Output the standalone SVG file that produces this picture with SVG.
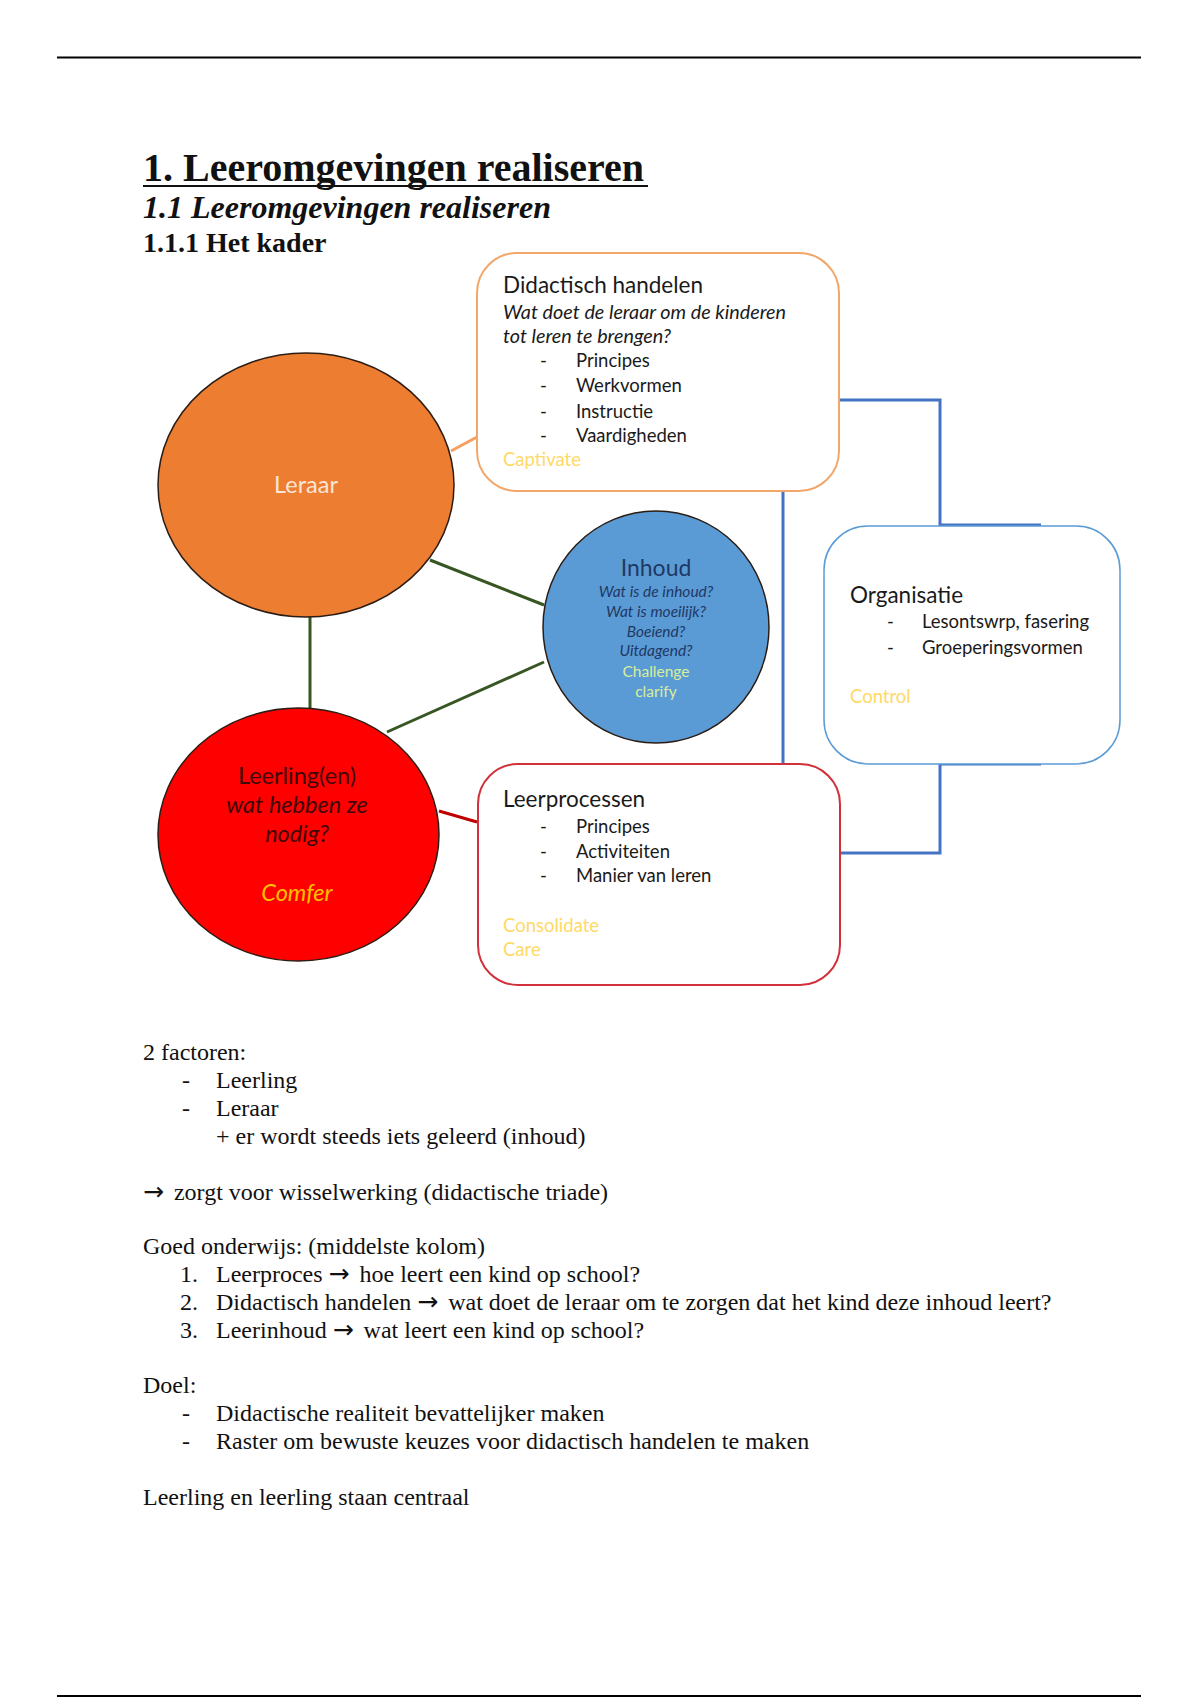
<svg xmlns="http://www.w3.org/2000/svg" width="1200" height="1700" viewBox="0 0 1200 1700">
<style>
.serif{font-family:"Liberation Serif","Times New Roman",serif;fill:#111}
.body{font-size:24px}
.arr{font-family:"DejaVu Sans",sans-serif;font-size:25px}
.sans{font-family:Lato,"Noto Sans","DejaVu Sans",sans-serif;fill:#1a1a1a}
.t22{font-size:22.5px}
.t19{font-size:19.8px}
.t18{font-size:18.5px}
.it{font-style:italic}
.yel{fill:#FFD966}
.box{fill:#fff}
.ell{stroke:#2b1d14;stroke-width:1.5}
.conn{fill:none;stroke-width:3}
</style>
<rect width="1200" height="1700" fill="#fff"/>
<line x1="57" y1="57.5" x2="1141" y2="57.5" stroke="#000" stroke-width="2"/>
<line x1="57" y1="1696" x2="1141" y2="1696" stroke="#000" stroke-width="2"/>

<g id="headings">
<text class="serif" x="143" y="181" font-size="40" font-weight="bold">1. Leeromgevingen realiseren</text>
<line x1="143" y1="186" x2="648" y2="186" stroke="#111" stroke-width="2"/>
<text class="serif" x="143" y="218" font-size="32" font-weight="bold" font-style="italic">1.1 Leeromgevingen realiseren</text>
<text class="serif" x="143" y="252" font-size="28" font-weight="bold">1.1.1 Het kader</text>
</g>

<g id="connectors">
<line class="conn" x1="451" y1="451" x2="477" y2="437" stroke="#F4A060"/>
<line class="conn" x1="310" y1="617" x2="310" y2="708" stroke="#375623"/>
<line class="conn" x1="430" y1="560" x2="544" y2="605" stroke="#375623"/>
<line class="conn" x1="387" y1="732" x2="544" y2="662" stroke="#375623"/>
<line class="conn" x1="439" y1="811" x2="477" y2="822" stroke="#C00000"/>
<line class="conn" x1="783" y1="491" x2="783" y2="763" stroke="#4472C4"/>
<polyline class="conn" points="839,400 940,400 940,525 1041,525" stroke="#4472C4"/>
<polyline class="conn" points="840,853 940,853 940,764 1041,764" stroke="#4472C4"/>
</g>

<g id="didactisch">
<rect class="box" x="477" y="253" width="362" height="238" rx="40" stroke="#F2A76A" stroke-width="2"/>
<text class="sans t22" x="503" y="293">Didactisch handelen</text>
<text class="sans t19 it" x="503" y="319">Wat doet de leraar om de kinderen</text>
<text class="sans t19 it" x="503" y="343">tot leren te brengen?</text>
<g class="sans t18">
<text x="540" y="367">-</text><text x="576" y="367">Principes</text>
<text x="540" y="392">-</text><text x="576" y="392">Werkvormen</text>
<text x="540" y="418">-</text><text x="576" y="418">Instructie</text>
<text x="540" y="442">-</text><text x="576" y="442">Vaardigheden</text>
</g>
<text class="sans t18 yel" x="503" y="466">Captivate</text>
</g>

<g id="leraar">
<ellipse class="ell" cx="306" cy="485" rx="148" ry="132" fill="#ED7D31"/>
<text class="sans" x="306" y="493" font-size="23.5" text-anchor="middle" style="fill:#FBE5D6">Leraar</text>
</g>

<g id="inhoud">
<ellipse class="ell" cx="656" cy="627" rx="113" ry="116" fill="#5B9BD5"/>
<text class="sans" x="656" y="576" font-size="23" text-anchor="middle" style="fill:#1F3864">Inhoud</text>
<g class="sans it" font-size="15.5" text-anchor="middle" style="fill:#1F3864">
<text x="656" y="597">Wat is de inhoud?</text>
<text x="656" y="617">Wat is moeilijk?</text>
<text x="656" y="637">Boeiend?</text>
<text x="656" y="656">Uitdagend?</text>
</g>
<g class="sans" font-size="15.5" text-anchor="middle" style="fill:#D8EE9A">
<text x="656" y="677">Challenge</text>
<text x="656" y="697">clarify</text>
</g>
</g>

<g id="organisatie">
<rect class="box" x="824" y="526" width="296" height="238" rx="44" stroke="#5B9BD5" stroke-width="1.5"/>
<text class="sans t22" x="850" y="603">Organisatie</text>
<g class="sans t18">
<text x="887" y="628">-</text><text x="922" y="628">Lesontswrp, fasering</text>
<text x="887" y="654">-</text><text x="922" y="654">Groeperingsvormen</text>
</g>
<text class="sans t18 yel" x="850" y="703">Control</text>
</g>

<g id="leerling">
<ellipse class="ell" cx="298.5" cy="834.5" rx="140.5" ry="126.5" fill="#FF0000"/>
<g class="sans" font-size="23.5" text-anchor="middle" style="fill:#3F0808">
<text x="297" y="784">Leerling(en)</text>
<text x="297" y="813" font-style="italic">wat hebben ze</text>
<text x="297" y="842" font-style="italic">nodig?</text>
</g>
<text class="sans it" x="297" y="901" font-size="23.5" text-anchor="middle" style="fill:#FFC000">Comfer</text>
</g>

<g id="leerprocessen">
<rect class="box" x="478" y="764" width="362" height="221" rx="40" stroke="#D0313B" stroke-width="2"/>
<text class="sans t22" x="503" y="807">Leerprocessen</text>
<g class="sans t18">
<text x="540" y="833">-</text><text x="576" y="833">Principes</text>
<text x="540" y="858">-</text><text x="576" y="858">Activiteiten</text>
<text x="540" y="882">-</text><text x="576" y="882">Manier van leren</text>
</g>
<text class="sans t18 yel" x="503" y="932">Consolidate</text>
<text class="sans t18 yel" x="503" y="956">Care</text>
</g>

<g id="bodytext" class="serif body">
<text x="143" y="1060">2 factoren:</text>
<text x="182" y="1088">-</text><text x="216" y="1088">Leerling</text>
<text x="182" y="1116">-</text><text x="216" y="1116">Leraar</text>
<text x="216" y="1144">+ er wordt steeds iets geleerd (inhoud)</text>
<text x="143" y="1200"><tspan class="arr">→</tspan><tspan dx="4"> zorgt voor wisselwerking (didactische triade)</tspan></text>
<text x="143" y="1254">Goed onderwijs: (middelste kolom)</text>
<text x="180" y="1282">1.</text><text x="216" y="1282">Leerproces <tspan class="arr">→</tspan><tspan dx="4"> hoe leert een kind op school?</tspan></text>
<text x="180" y="1310">2.</text><text x="216" y="1310">Didactisch handelen <tspan class="arr">→</tspan><tspan dx="4"> wat doet de leraar om te zorgen dat het kind deze inhoud leert?</tspan></text>
<text x="180" y="1338">3.</text><text x="216" y="1338">Leerinhoud <tspan class="arr">→</tspan><tspan dx="4"> wat leert een kind op school?</tspan></text>
<text x="143" y="1393">Doel:</text>
<text x="182" y="1421">-</text><text x="216" y="1421">Didactische realiteit bevattelijker maken</text>
<text x="182" y="1449">-</text><text x="216" y="1449">Raster om bewuste keuzes voor didactisch handelen te maken</text>
<text x="143" y="1505">Leerling en leerling staan centraal</text>
</g>
</svg>
